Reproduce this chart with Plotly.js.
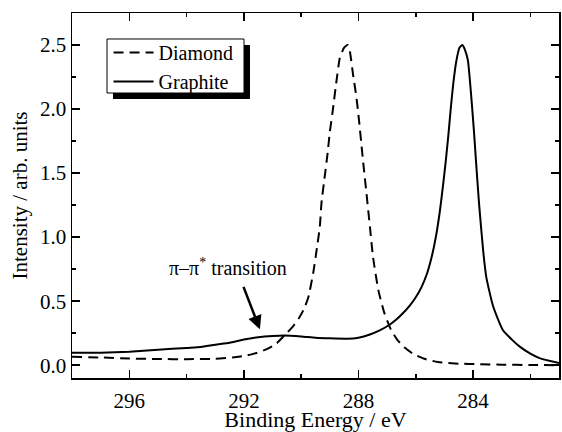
<!DOCTYPE html>
<html>
<head>
<meta charset="utf-8">
<script src="https://cdn.plot.ly/plotly-3.0.1.min.js"></script>
<style>
html,body{margin:0;padding:0;background:#fff;}
#chart{width:562px;height:432px;}
</style>
</head>
<body>
<div id="chart"></div>
<script>
// Binding energy (eV) and intensity (arb. units)
const diamondX = [298, 297, 296, 295, 294, 293, 292.4, 292.0, 291.56, 291.2, 290.86, 290.51, 290.3, 290.07, 289.9, 289.75, 289.58, 289.46, 289.35, 289.29, 289.18, 289.08, 289.0, 288.89, 288.79, 288.65, 288.5, 288.38, 288.3, 288.19, 288.07, 287.98, 287.9, 287.82, 287.72, 287.6, 287.49, 287.3, 287.1, 286.87, 286.65, 286.4, 286.08, 285.7, 285.23, 284.5, 283.8, 283.0, 282.0, 281.0];
const diamondY = [0.065, 0.06, 0.052, 0.048, 0.047, 0.05, 0.06, 0.072, 0.095, 0.125, 0.17, 0.25, 0.30, 0.37, 0.44, 0.53, 0.72, 0.90, 1.08, 1.27, 1.47, 1.65, 1.82, 2.0, 2.18, 2.40, 2.48, 2.50, 2.45, 2.27, 2.09, 1.91, 1.73, 1.55, 1.34, 1.08, 0.84, 0.58, 0.41, 0.28, 0.20, 0.14, 0.087, 0.05, 0.025, 0.012, 0.008, 0.004, 0.002, 0.0];

const graphiteX = [298, 297, 296, 295, 294, 293.5, 293, 292.5, 292, 291.5, 291.0, 290.6, 290.0, 289.5, 289.0, 288.4, 288.0, 287.6, 287.26, 286.9, 286.68, 286.45, 286.21, 286.0, 285.8, 285.6, 285.45, 285.3, 285.16, 285.05, 284.95, 284.86, 284.78, 284.69, 284.58, 284.47, 284.37, 284.28, 284.18, 284.06, 283.97, 283.89, 283.79, 283.65, 283.54, 283.3, 282.96, 282.6, 282.37, 282.0, 281.68, 281.0];
const graphiteY = [0.098, 0.098, 0.105, 0.12, 0.135, 0.142, 0.16, 0.175, 0.2, 0.218, 0.228, 0.232, 0.225, 0.215, 0.21, 0.207, 0.215, 0.24, 0.272, 0.318, 0.356, 0.405, 0.465, 0.53, 0.61, 0.72, 0.84, 1.0, 1.2, 1.40, 1.60, 1.80, 2.0, 2.2, 2.38, 2.48, 2.50, 2.46, 2.38, 2.09, 1.83, 1.57, 1.26, 0.90, 0.69, 0.46, 0.275, 0.19, 0.145, 0.09, 0.055, 0.016];

const seriesNames = ["Diamond", "Graphite"];
const xTitle = "Binding Energy / eV";
const yTitle = "Intensity / arb. units";
const noteText = "π–π<sup>*</sup> transition";
const notePoint = [291.44, 0.28];   // arrow tip
const noteLabel = [292.54, 0.77];   // label centre

const serif = "\"Liberation Serif\", \"Times New Roman\", Times, serif";

const traces = [
  {x: diamondX, y: diamondY, name: seriesNames[0], type: "scatter", mode: "lines",
   line: {color: "#000", width: 2, dash: "10px,6px", shape: "spline", smoothing: 0.5}},
  {x: graphiteX, y: graphiteY, name: seriesNames[1], type: "scatter", mode: "lines",
   line: {color: "#000", width: 2, shape: "spline", smoothing: 0.5}}
];

const axisCommon = {
  showline: true, linecolor: "#000", linewidth: 1.5, mirror: "ticks",
  ticks: "inside", ticklen: 8, tickwidth: 1.5, tickcolor: "#000",
  showgrid: false, zeroline: false,
  tickfont: {family: serif, size: 21, color: "#000"}
};

const layout = {
  width: 562, height: 432,
  margin: {l: 72, r: 3, t: 13, b: 54},
  paper_bgcolor: "#fff", plot_bgcolor: "#fff",
  font: {family: serif, color: "#000"},
  showlegend: true,
  legend: {x: 0.075, y: 0.945, xanchor: "left", yanchor: "top",
           bgcolor: "rgba(0,0,0,0)", borderwidth: 0,
           font: {family: serif, size: 20, color: "#000"},
           itemwidth: 40, tracegroupgap: 0},
  xaxis: Object.assign({}, axisCommon, {
    range: [298, 281], tick0: 284, dtick: 4, ticklabelstandoff: 3,
    minor: {dtick: 2, ticks: "inside", ticklen: 4, tickwidth: 1.5, tickcolor: "#000"},
    title: {text: xTitle, font: {family: serif, size: 22, color: "#000"}, standoff: 12}
  }),
  yaxis: Object.assign({}, axisCommon, {
    range: [-0.1, 2.75], tick0: 0, dtick: 0.5, tickformat: ".1f",
    minor: {dtick: 0.25, ticks: "inside", ticklen: 4, tickwidth: 1.5, tickcolor: "#000"},
    title: {text: yTitle, font: {family: serif, size: 21, color: "#000"}, standoff: 6}
  }),
  shapes: [
    {type: "rect", xref: "paper", yref: "paper", x0: 0.0842, x1: 0.3655, y0: 0.7644, y1: 0.9123,
     fillcolor: "#000", line: {width: 0}, layer: "above"},
    {type: "rect", xref: "paper", yref: "paper", x0: 0.0719, x1: 0.3532, y0: 0.7808, y1: 0.9288,
     fillcolor: "#fff", line: {color: "#000", width: 1}, layer: "above"}
  ],
  annotations: [
    {x: notePoint[0], y: notePoint[1], xref: "x", yref: "y", text: "", showarrow: true,
     ax: -17, ay: -44, arrowhead: 2, arrowsize: 1.1, arrowwidth: 2.5, arrowcolor: "#000"},
    {x: noteLabel[0], y: noteLabel[1], xref: "x", yref: "y", text: noteText, showarrow: false,
     font: {family: serif, size: 20, color: "#000"}}
  ]
};

Plotly.newPlot("chart", traces, layout, {displayModeBar: false, staticPlot: true});
</script>
</body>
</html>
